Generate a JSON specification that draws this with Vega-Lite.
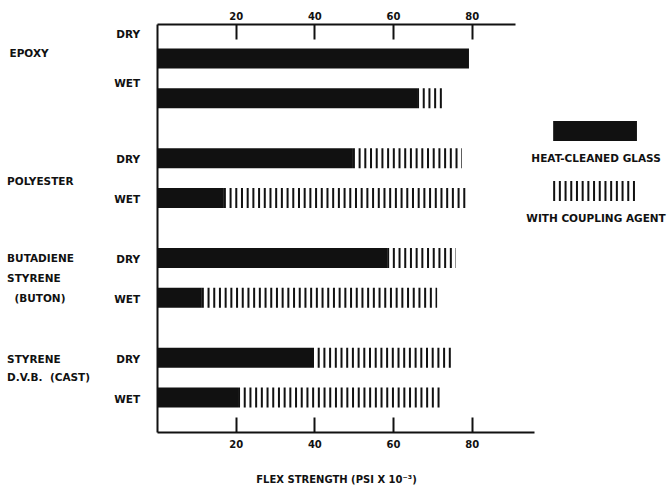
{
  "$schema": "https://vega.github.io/schema/vega-lite/v6.json",
  "width": 377,
  "height": 408,
  "autosize": {"type": "none"},
  "padding": {"left": 157, "top": 24, "right": 136, "bottom": 56},
  "background": "white",
  "config": {
    "view": {"stroke": null},
    "font": "DejaVu Sans",
    "text": {"font": "DejaVu Sans", "fontWeight": "bold", "fontSize": 10.5, "color": "#111"}
  },
  "datasets": {
    "bars": [
      {"group": "EPOXY", "cond": "DRY", "glass": 79.3, "coupled": 79.3},
      {"group": "EPOXY", "cond": "WET", "glass": 66.1, "coupled": 72.7},
      {"group": "POLYESTER", "cond": "DRY", "glass": 49.8, "coupled": 77.5},
      {"group": "POLYESTER", "cond": "WET", "glass": 17.0, "coupled": 78.8},
      {"group": "BUTADIENE", "cond": "DRY", "glass": 58.5, "coupled": 76.0},
      {"group": "BUTADIENE", "cond": "WET", "glass": 11.4, "coupled": 71.2},
      {"group": "STYRENE", "cond": "DRY", "glass": 39.4, "coupled": 75.0},
      {"group": "STYRENE", "cond": "WET", "glass": 20.6, "coupled": 72.4}
    ],
    "groups": [
      {"group": "EPOXY", "label": "EPOXY"},
      {"group": "POLYESTER", "label": "POLYESTER"},
      {"group": "BUTADIENE", "label": "BUTADIENE\nSTYRENE\n\u200b\u00a0\u00a0(BUTON)"},
      {"group": "STYRENE", "label": "STYRENE\nD.V.B.\u00a0\u00a0(CAST)"}
    ],
    "legend": [
      {"item": "HEAT-CLEANED GLASS", "kind": "glass"},
      {"item": "WITH COUPLING AGENT", "kind": "coupled"}
    ]
  },
  "layer": [
    {
      "data": {"name": "bars"},
      "encoding": {
        "y": {
          "field": "group", "type": "nominal", "sort": null,
          "scale": {"domain": ["EPOXY", "POLYESTER", "BUTADIENE", "STYRENE"], "paddingInner": 0, "paddingOuter": 0.045},
          "axis": {"orient": "left", "labels": false, "ticks": false, "title": null, "domainWidth": 2, "domainColor": "#111", "grid": false}
        }
      },
      "layer": [
        {
          "mark": {"type": "bar", "color": "#111"},
          "encoding": {
            "x": {
              "field": "glass", "type": "quantitative",
              "scale": {"domain": [0, 95.83], "nice": false, "zero": true},
              "axis": {
                "orient": "bottom", "values": [20, 40, 60, 80], "title": "FLEX STRENGTH (PSI X 10\u207b\u00b3)",
                "grid": false, "tickSize": -15, "tickWidth": 2, "tickColor": "#111", "labelPadding": 22,
                "domainWidth": 2, "domainColor": "#111", "labelFont": "DejaVu Sans", "labelFontSize": 10,
                "labelFontWeight": "bold", "labelColor": "#111", "titleFont": "DejaVu Sans", "titleFontSize": 10,
                "titleFontWeight": "bold", "titleColor": "#111", "titlePadding": 25, "titleX": 179
              }
            },
            "yOffset": {"field": "cond", "type": "nominal", "sort": ["DRY", "WET"], "scale": {"paddingInner": 0.5, "paddingOuter": 0.5}}
          }
        },
        {
          "transform": [{"filter": "datum.coupled > datum.glass"}],
          "mark": {"type": "rule", "color": "#111", "strokeWidth": 20, "strokeDash": [2, 3.7], "strokeCap": "butt"},
          "encoding": {
            "x": {"field": "glass", "type": "quantitative", "scale": {"domain": [0, 95.83], "nice": false}},
            "x2": {"field": "coupled"},
            "yOffset": {"field": "cond", "type": "nominal", "sort": ["DRY", "WET"], "scale": {"paddingInner": 0.5, "paddingOuter": 0.5}}
          }
        },
        {
          "transform": [{"filter": "datum.group != 'EPOXY'"}],
          "mark": {"type": "text", "align": "right", "baseline": "middle", "dy": 2},
          "encoding": {
            "x": {"datum": -4.3, "scale": {"domain": [0, 95.83], "nice": false}},
            "yOffset": {"field": "cond", "type": "nominal", "sort": ["DRY", "WET"], "scale": {"paddingInner": 0.5, "paddingOuter": 0.5}},
            "text": {"field": "cond", "type": "nominal"}
          }
        },
        {
          "transform": [{"filter": "datum.group == 'EPOXY' && datum.cond == 'DRY'"}],
          "mark": {"type": "text", "align": "right", "baseline": "middle", "dy": -23},
          "encoding": {
            "x": {"datum": -4.3, "scale": {"domain": [0, 95.83], "nice": false}},
            "yOffset": {"field": "cond", "type": "nominal", "sort": ["DRY", "WET"], "scale": {"paddingInner": 0.5, "paddingOuter": 0.5}},
            "text": {"field": "cond", "type": "nominal"}
          }
        },
        {
          "transform": [{"filter": "datum.group == 'EPOXY' && datum.cond == 'WET'"}],
          "mark": {"type": "text", "align": "right", "baseline": "middle", "dy": -14},
          "encoding": {
            "x": {"datum": -4.3, "scale": {"domain": [0, 95.83], "nice": false}},
            "yOffset": {"field": "cond", "type": "nominal", "sort": ["DRY", "WET"], "scale": {"paddingInner": 0.5, "paddingOuter": 0.5}},
            "text": {"field": "cond", "type": "nominal"}
          }
        },
        {
          "data": {"name": "groups"},
          "transform": [{"filter": "datum.group == 'EPOXY'"}],
          "mark": {"type": "text", "align": "left", "baseline": "middle", "dy": -24},
          "encoding": {
            "x": {"datum": -37.5, "scale": {"domain": [0, 95.83], "nice": false}},
            "text": {"field": "label", "type": "nominal"}
          }
        },
        {
          "data": {"name": "groups"},
          "transform": [{"filter": "datum.group == 'POLYESTER'"}],
          "mark": {"type": "text", "align": "left", "baseline": "middle", "dy": 4},
          "encoding": {
            "x": {"datum": -38.1, "scale": {"domain": [0, 95.83], "nice": false}},
            "text": {"field": "label", "type": "nominal"}
          }
        },
        {
          "data": {"name": "groups"},
          "transform": [{"filter": "datum.group == 'BUTADIENE'"}],
          "mark": {"type": "text", "align": "left", "baseline": "middle", "dy": -19, "lineBreak": "\n", "lineHeight": 20},
          "encoding": {
            "x": {"datum": -38.1, "scale": {"domain": [0, 95.83], "nice": false}},
            "text": {"field": "label", "type": "nominal"}
          }
        },
        {
          "data": {"name": "groups"},
          "transform": [{"filter": "datum.group == 'STYRENE'"}],
          "mark": {"type": "text", "align": "left", "baseline": "middle", "dy": -18, "lineBreak": "\n", "lineHeight": 18},
          "encoding": {
            "x": {"datum": -38.1, "scale": {"domain": [0, 95.83], "nice": false}},
            "text": {"field": "label", "type": "nominal"}
          }
        }
      ]
    },
    {
      "data": {"name": "legend"},
      "encoding": {
        "y": {
          "field": "item", "type": "nominal", "sort": null,
          "scale": {"domain": ["HEAT-CLEANED GLASS", "WITH COUPLING AGENT"], "range": [97, 177], "paddingInner": 0.6667, "paddingOuter": 0},
          "axis": null
        }
      },
      "layer": [
        {
          "transform": [{"filter": "datum.kind == 'glass'"}],
          "mark": {"type": "bar", "color": "#111"},
          "encoding": {
            "x": {
              "datum": 100.7, "type": "quantitative",
              "scale": {"domain": [0, 91], "range": [0, 358], "nice": false},
              "axis": {
                "orient": "top", "values": [20, 40, 60, 80], "title": null, "grid": false,
                "tickSize": -15, "tickWidth": 2, "tickColor": "#111", "labelPadding": 18,
                "domainWidth": 2, "domainColor": "#111", "labelFont": "DejaVu Sans", "labelFontSize": 10,
                "labelFontWeight": "bold", "labelColor": "#111"
              }
            },
            "x2": {"datum": 122.0}
          }
        },
        {
          "transform": [{"filter": "datum.kind == 'coupled'"}],
          "mark": {"type": "rule", "color": "#111", "strokeWidth": 20, "strokeDash": [2, 3.7], "strokeCap": "butt"},
          "encoding": {
            "x": {"datum": 100.7, "type": "quantitative", "scale": {"domain": [0, 91], "range": [0, 358], "nice": false}},
            "x2": {"datum": 122.0}
          }
        },
        {
          "mark": {"type": "text", "align": "center", "baseline": "middle", "dy": 28},
          "encoding": {
            "x": {"datum": 111.6, "type": "quantitative", "scale": {"domain": [0, 91], "range": [0, 358], "nice": false}},
            "text": {"field": "item", "type": "nominal"}
          }
        }
      ]
    }
  ],
  "resolve": {"scale": {"y": "independent", "x": "independent"}, "axis": {"x": "independent"}}
}
